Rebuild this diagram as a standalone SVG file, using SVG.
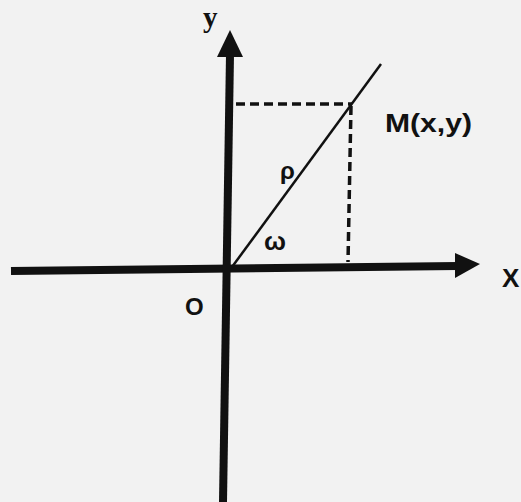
<svg xmlns="http://www.w3.org/2000/svg" width="521" height="502" viewBox="0 0 521 502">
<style>
.ax{stroke:#111;stroke-width:8;fill:none}
.ah{fill:#111}
.dash{stroke:#111;stroke-width:3.5;stroke-dasharray:9 5;fill:none}
.rad{stroke:#111;stroke-width:2.5;fill:none}
.lbl{font-family:"Liberation Sans",Arial,sans-serif;font-weight:bold;fill:#111}
.ser{font-family:"Liberation Serif","Times New Roman",serif;font-weight:bold;fill:#111}
</style>
<rect width="521" height="502" fill="#f2f2f2"/>
<g id="connectors">
<line class="ax" x1="11" y1="271" x2="458" y2="266"/>
<polygon class="ah" points="480,264 455,253 455,278"/>
<line class="ax" x1="223" y1="502" x2="230" y2="55"/>
<polygon class="ah" points="230,30 217,57 243,57"/>
<line class="rad" x1="232" y1="267" x2="381" y2="64"/>
<line class="dash" x1="236" y1="104" x2="352" y2="104"/>
<line class="dash" x1="351" y1="106" x2="348" y2="262"/>
</g>
<g id="label-y"><text class="ser" x="203" y="27" font-size="29">y</text></g>
<g id="label-M"><text class="lbl" x="385" y="132" font-size="26" textLength="87" lengthAdjust="spacingAndGlyphs">M(x,y)</text></g>
<g id="label-rho"><text class="lbl" x="280" y="179" font-size="24">ρ</text></g>
<g id="label-omega"><text class="lbl" x="264" y="250" font-size="26">ω</text></g>
<g id="label-O"><text class="lbl" x="185" y="315" font-size="24">O</text></g>
<g id="label-X"><text class="lbl" x="502" y="287" font-size="26">X</text></g>
</svg>
